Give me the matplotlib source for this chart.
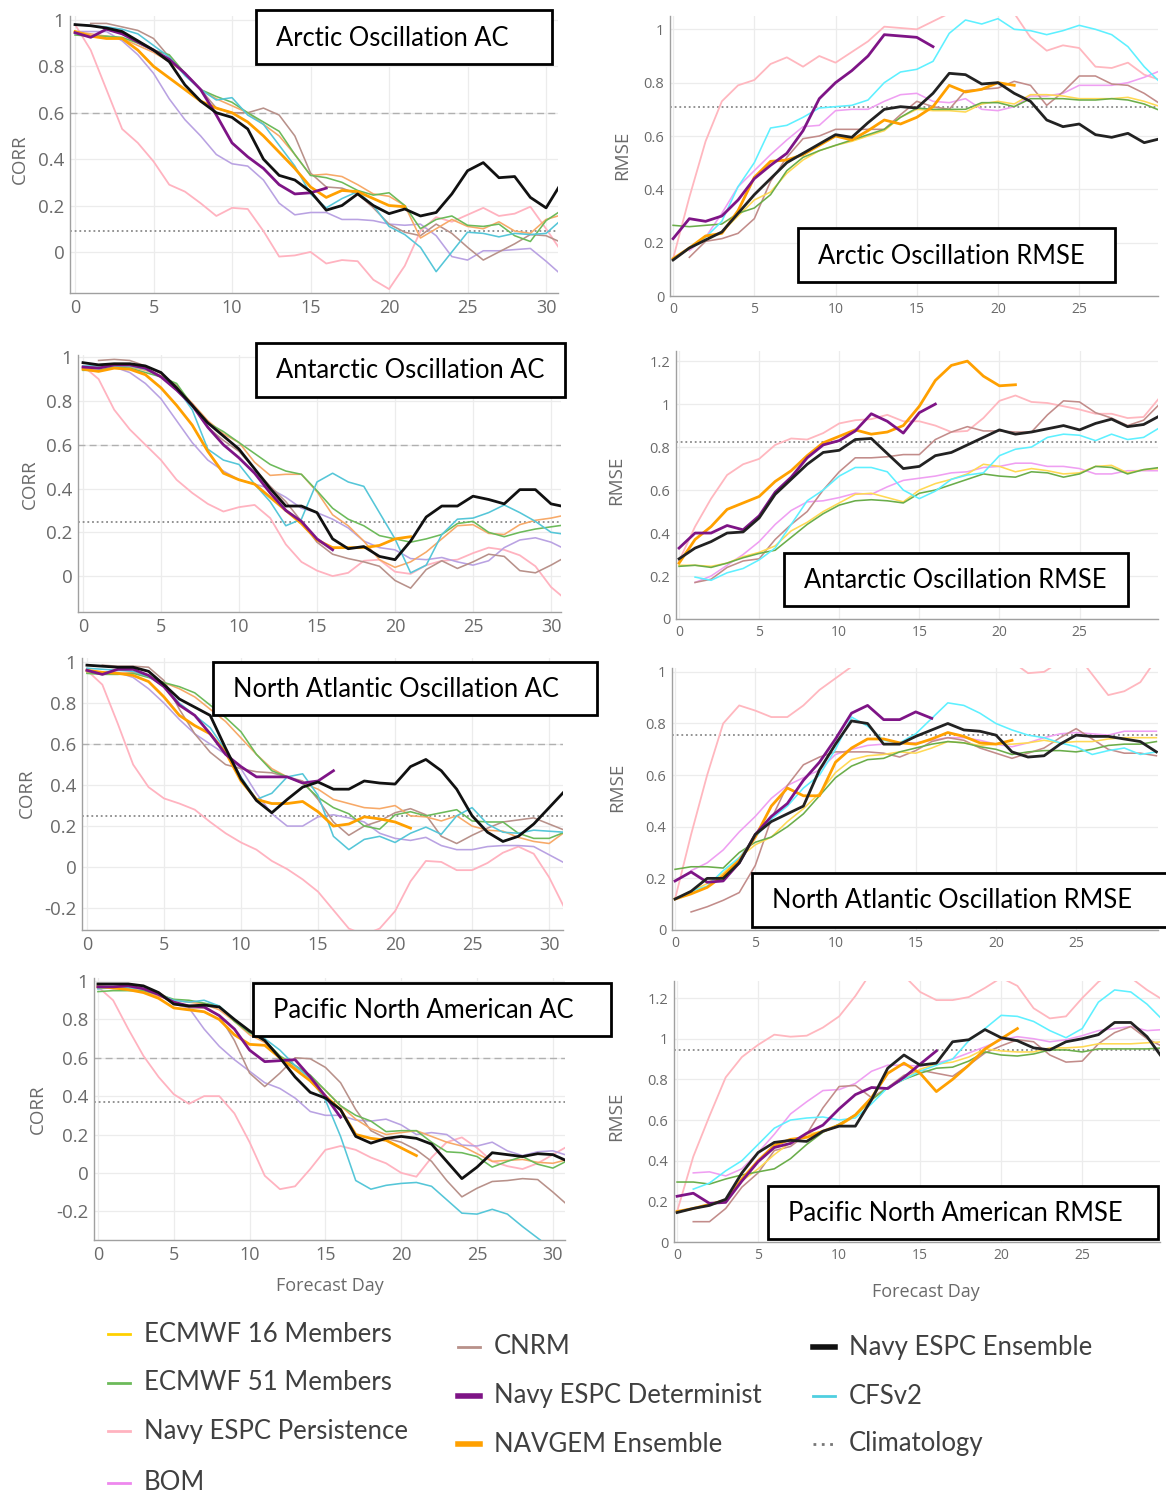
import numpy as np
import matplotlib
matplotlib.use('Agg')
import matplotlib.pyplot as plt
from matplotlib.patches import Rectangle
from matplotlib.lines import Line2D

plt.rcParams['font.family'] = ['Open Sans', 'DejaVu Sans']

# ---------------- data (AC panels: days 0..31, RMSE panels: days 0..30) ----------------
N = None
# Arctic Oscillation AC
ao_ac_pers = [0.98,0.87,0.70,0.53,0.47,0.39,0.29,0.26,0.21,0.155,0.19,0.185,0.09,-0.02,-0.015,0.0,-0.05,-0.035,-0.04,-0.12,-0.16,-0.06,0.09,0.15,0.13,0.16,0.19,0.155,0.165,0.195,0.10,0.0]
ao_ac_bom = [0.95,0.95,0.95,0.91,0.85,0.77,0.66,0.57,0.50,0.42,0.38,0.37,0.31,0.21,0.16,0.17,0.17,0.14,0.14,0.135,0.12,0.115,0.12,0.07,-0.02,-0.035,0.005,0.005,0.01,0.015,-0.04,-0.10]
ao_ac_cnrm = [N,0.985,0.985,0.97,0.955,0.92,0.84,0.77,0.70,0.62,0.60,0.60,0.62,0.59,0.50,0.34,0.28,0.275,0.25,0.19,0.12,0.085,0.07,0.12,0.08,0.02,-0.035,0.0,0.035,0.075,0.07,0.04]
ao_ac_e16 = [0.95,0.94,0.93,0.92,0.89,0.86,0.82,0.77,0.70,0.66,0.63,0.60,0.55,0.50,0.42,0.33,0.335,0.325,0.29,0.25,0.24,0.20,0.06,0.10,0.14,0.11,0.10,0.13,0.09,0.08,0.14,0.16]
ao_ac_e51 = [0.935,0.93,0.93,0.925,0.90,0.87,0.85,0.77,0.70,0.67,0.645,0.60,0.56,0.52,0.42,0.33,0.32,0.30,0.265,0.245,0.255,0.20,0.10,0.14,0.155,0.115,0.11,0.12,0.07,0.045,0.135,0.18]
ao_ac_cfs = [0.98,0.975,0.97,0.96,0.94,0.89,0.84,0.76,0.70,0.655,0.665,0.59,0.55,0.46,0.37,0.25,0.19,0.23,0.26,0.20,0.11,0.075,0.02,-0.085,0.0,0.085,0.08,0.065,0.08,0.075,0.08,0.14]
ao_ac_navgem = [0.95,0.93,0.92,0.92,0.87,0.80,0.75,0.70,0.65,0.62,0.60,0.56,0.50,0.43,0.36,0.28,0.235,0.265,0.26,0.23,0.20,0.195]
ao_ac_det = [0.945,0.925,0.96,0.94,0.905,0.87,0.83,0.77,0.70,0.59,0.47,0.41,0.36,0.29,0.25,0.255,0.275]
ao_ac_ens = [0.98,0.975,0.965,0.95,0.91,0.87,0.82,0.72,0.65,0.60,0.58,0.53,0.40,0.33,0.31,0.26,0.18,0.20,0.25,0.20,0.165,0.185,0.155,0.17,0.25,0.35,0.385,0.32,0.325,0.235,0.19,0.30]
ao_ac_clim = 0.09

# Arctic Oscillation RMSE
ao_rm_pers = [0.14,0.37,0.58,0.73,0.79,0.81,0.87,0.895,0.86,0.90,0.875,0.915,0.955,1.01,1.005,1.0,1.03,1.06,1.09,1.12,1.12,1.06,0.97,0.92,0.94,0.93,0.86,0.855,0.875,0.83,0.81]
ao_rm_bom = [N,0.17,0.22,0.31,0.41,0.47,0.53,0.585,0.635,0.64,0.695,0.70,0.70,0.73,0.755,0.76,0.73,0.725,0.74,0.70,0.695,0.71,0.75,0.75,0.76,0.79,0.79,0.79,0.80,0.82,0.845]
ao_rm_cnrm = [N,0.145,0.205,0.215,0.235,0.29,0.43,0.52,0.59,0.60,0.625,0.625,0.625,0.625,0.68,0.73,0.71,0.70,0.77,0.775,0.78,0.805,0.79,0.715,0.765,0.825,0.825,0.795,0.79,0.76,0.72]
ao_rm_e16 = [0.14,0.18,0.21,0.24,0.30,0.36,0.39,0.46,0.51,0.545,0.565,0.58,0.60,0.62,0.67,0.70,0.695,0.695,0.69,0.72,0.73,0.72,0.755,0.755,0.75,0.74,0.74,0.74,0.745,0.73,0.71]
ao_rm_e51 = [0.265,0.26,0.265,0.27,0.31,0.33,0.38,0.47,0.52,0.545,0.565,0.585,0.605,0.625,0.67,0.705,0.70,0.70,0.70,0.725,0.725,0.71,0.74,0.74,0.74,0.735,0.735,0.74,0.735,0.72,0.695]
ao_rm_cfs = [N,0.18,0.22,0.28,0.41,0.50,0.63,0.64,0.67,0.705,0.71,0.715,0.735,0.80,0.84,0.85,0.88,0.985,1.035,1.02,1.04,1.0,0.995,0.98,0.995,1.015,1.0,0.98,0.935,0.86,0.80]
ao_rm_navgem = [0.14,0.18,0.225,0.235,0.32,0.445,0.505,0.51,0.53,0.565,0.60,0.585,0.62,0.66,0.645,0.67,0.71,0.79,0.765,0.775,0.80,0.79]
ao_rm_det = [0.215,0.29,0.28,0.30,0.36,0.44,0.49,0.535,0.62,0.74,0.80,0.845,0.90,0.98,0.975,0.97,0.935]
ao_rm_ens = [0.135,0.18,0.21,0.24,0.31,0.38,0.44,0.50,0.535,0.57,0.605,0.595,0.65,0.70,0.71,0.705,0.76,0.835,0.83,0.795,0.80,0.76,0.73,0.66,0.635,0.645,0.605,0.595,0.61,0.575,0.59]
ao_rm_clim = 0.71

# Antarctic Oscillation AC
aao_ac_pers = [0.96,0.90,0.76,0.67,0.60,0.53,0.44,0.38,0.33,0.295,0.315,0.325,0.265,0.145,0.065,0.025,0.0,0.015,0.07,0.075,0.02,0.01,0.05,0.07,0.075,0.105,0.13,0.12,0.095,0.045,-0.05,-0.11]
aao_ac_bom = [0.955,0.95,0.955,0.93,0.88,0.81,0.71,0.61,0.53,0.48,0.44,0.42,0.40,0.36,0.31,0.29,0.26,0.22,0.16,0.13,0.12,0.08,0.075,0.085,0.065,0.05,0.07,0.13,0.165,0.175,0.155,0.12]
aao_ac_cnrm = [N,0.985,0.99,0.985,0.96,0.925,0.87,0.78,0.68,0.62,0.57,0.49,0.41,0.34,0.25,0.155,0.10,0.08,0.065,0.045,-0.02,-0.055,0.03,0.07,0.035,0.065,0.10,0.09,0.025,0.015,0.05,0.09]
aao_ac_e16 = [0.95,0.96,0.96,0.955,0.94,0.915,0.865,0.79,0.71,0.65,0.61,0.52,0.46,0.465,0.465,0.385,0.28,0.23,0.16,0.075,0.04,0.065,0.11,0.17,0.23,0.235,0.195,0.19,0.235,0.255,0.265,0.28]
aao_ac_e51 = [0.94,0.94,0.955,0.95,0.93,0.91,0.88,0.78,0.70,0.66,0.61,0.56,0.51,0.48,0.465,0.39,0.31,0.26,0.23,0.185,0.17,0.155,0.17,0.19,0.24,0.25,0.20,0.18,0.20,0.215,0.225,0.235]
aao_ac_cfs = [0.96,0.96,0.96,0.96,0.945,0.91,0.86,0.76,0.58,0.53,0.51,0.42,0.34,0.23,0.26,0.43,0.47,0.43,0.41,0.29,0.17,0.015,0.05,0.19,0.26,0.265,0.29,0.325,0.29,0.25,0.20,0.19]
aao_ac_navgem = [0.945,0.935,0.95,0.945,0.92,0.86,0.78,0.69,0.57,0.47,0.44,0.42,0.36,0.30,0.24,0.165,0.13,0.13,0.13,0.14,0.17,0.18]
aao_ac_det = [0.955,0.95,0.965,0.965,0.95,0.91,0.85,0.78,0.68,0.60,0.54,0.47,0.38,0.30,0.25,0.17,0.12]
aao_ac_ens = [0.975,0.965,0.97,0.97,0.96,0.93,0.86,0.78,0.70,0.64,0.58,0.49,0.40,0.32,0.32,0.29,0.17,0.125,0.135,0.09,0.075,0.16,0.27,0.32,0.32,0.365,0.35,0.33,0.395,0.395,0.33,0.315]
aao_ac_clim = 0.245

# Antarctic Oscillation RMSE
aao_rm_pers = [0.27,0.43,0.56,0.67,0.72,0.745,0.81,0.84,0.835,0.865,0.91,0.925,0.93,0.95,0.92,0.92,0.90,0.87,0.875,0.935,1.015,1.04,1.01,1.005,0.99,0.975,0.955,0.955,0.935,0.94,1.03]
aao_rm_bom = [N,0.17,0.20,0.25,0.30,0.36,0.44,0.505,0.545,0.55,0.565,0.585,0.58,0.615,0.645,0.655,0.665,0.68,0.685,0.705,0.71,0.725,0.725,0.71,0.71,0.70,0.675,0.675,0.69,0.69,0.69]
aao_rm_cnrm = [N,0.17,0.185,0.24,0.27,0.28,0.37,0.44,0.50,0.60,0.685,0.75,0.75,0.755,0.765,0.765,0.835,0.87,0.895,0.875,0.875,0.87,0.87,0.95,1.015,1.01,0.96,0.935,0.90,0.925,1.0]
aao_rm_e16 = [0.25,0.25,0.245,0.26,0.29,0.31,0.34,0.41,0.45,0.50,0.54,0.58,0.585,0.565,0.545,0.60,0.63,0.65,0.675,0.72,0.71,0.685,0.70,0.69,0.675,0.68,0.71,0.715,0.68,0.695,0.70]
aao_rm_e51 = [0.245,0.25,0.24,0.26,0.285,0.305,0.32,0.38,0.44,0.49,0.53,0.55,0.555,0.55,0.54,0.585,0.60,0.625,0.65,0.675,0.665,0.66,0.685,0.68,0.66,0.675,0.71,0.705,0.675,0.695,0.705]
aao_rm_cfs = [N,0.195,0.18,0.215,0.235,0.275,0.33,0.44,0.55,0.60,0.665,0.705,0.705,0.685,0.60,0.56,0.595,0.65,0.67,0.68,0.76,0.79,0.80,0.845,0.86,0.855,0.83,0.86,0.835,0.845,0.89]
aao_rm_navgem = [0.26,0.37,0.43,0.51,0.54,0.57,0.64,0.69,0.76,0.82,0.85,0.88,0.86,0.87,0.90,0.99,1.11,1.18,1.20,1.13,1.085,1.09]
aao_rm_det = [0.33,0.40,0.40,0.435,0.415,0.48,0.59,0.66,0.75,0.81,0.83,0.875,0.955,0.92,0.865,0.96,1.0]
aao_rm_ens = [0.28,0.33,0.36,0.40,0.405,0.47,0.58,0.65,0.72,0.775,0.785,0.835,0.84,0.77,0.70,0.71,0.76,0.775,0.81,0.845,0.88,0.86,0.87,0.885,0.90,0.88,0.91,0.93,0.895,0.905,0.945]
aao_rm_clim = 0.825

# North Atlantic Oscillation AC
nao_ac_pers = [0.96,0.89,0.70,0.50,0.39,0.335,0.31,0.28,0.22,0.165,0.12,0.085,0.03,-0.01,-0.06,-0.12,-0.21,-0.30,-0.33,-0.30,-0.215,-0.07,0.03,0.025,-0.015,-0.015,0.02,0.07,0.10,0.065,-0.05,-0.20]
nao_ac_bom = [0.955,0.95,0.95,0.925,0.87,0.80,0.72,0.65,0.60,0.55,0.48,0.36,0.26,0.20,0.20,0.245,0.255,0.24,0.22,0.165,0.14,0.13,0.145,0.105,0.085,0.085,0.10,0.105,0.105,0.10,0.06,0.02]
nao_ac_cnrm = [N,0.985,0.98,0.98,0.975,0.91,0.77,0.65,0.56,0.50,0.48,0.465,0.46,0.44,0.42,0.33,0.22,0.155,0.20,0.225,0.265,0.285,0.255,0.15,0.115,0.155,0.19,0.22,0.23,0.24,0.21,0.18]
nao_ac_e16 = [0.95,0.945,0.945,0.95,0.93,0.90,0.87,0.83,0.77,0.71,0.63,0.55,0.48,0.44,0.41,0.38,0.33,0.31,0.29,0.285,0.30,0.25,0.245,0.225,0.25,0.20,0.18,0.175,0.145,0.125,0.115,0.17]
nao_ac_e51 = [0.945,0.94,0.94,0.945,0.925,0.90,0.88,0.85,0.79,0.73,0.66,0.55,0.47,0.44,0.41,0.34,0.29,0.26,0.20,0.185,0.255,0.27,0.25,0.265,0.28,0.225,0.22,0.22,0.165,0.14,0.14,0.17]
nao_ac_cfs = [0.97,0.965,0.96,0.955,0.93,0.88,0.80,0.74,0.68,0.57,0.44,0.33,0.36,0.44,0.455,0.35,0.15,0.085,0.135,0.15,0.12,0.165,0.195,0.16,0.25,0.29,0.21,0.17,0.165,0.18,0.175,0.17]
nao_ac_navgem = [0.96,0.95,0.945,0.935,0.905,0.83,0.74,0.69,0.65,0.56,0.42,0.33,0.31,0.31,0.32,0.27,0.20,0.21,0.245,0.235,0.22,0.19]
nao_ac_det = [0.96,0.94,0.965,0.965,0.935,0.88,0.79,0.74,0.65,0.55,0.49,0.44,0.44,0.44,0.41,0.42,0.47]
nao_ac_ens = [0.985,0.98,0.975,0.975,0.955,0.89,0.82,0.78,0.74,0.58,0.43,0.325,0.265,0.33,0.39,0.415,0.38,0.38,0.42,0.41,0.405,0.49,0.525,0.47,0.38,0.25,0.17,0.125,0.15,0.21,0.29,0.37]
nao_ac_clim = 0.25

# North Atlantic Oscillation RMSE
nao_rm_pers = [0.12,0.37,0.60,0.80,0.87,0.85,0.825,0.825,0.87,0.93,0.975,1.02,1.06,1.10,1.15,1.18,1.20,1.20,1.18,1.15,1.10,1.04,0.995,1.0,1.04,1.07,0.99,0.91,0.925,0.96,1.05]
nao_rm_bom = [N,0.23,0.26,0.31,0.38,0.44,0.51,0.56,0.59,0.62,0.68,0.70,0.715,0.72,0.725,0.725,0.735,0.745,0.745,0.735,0.72,0.71,0.725,0.745,0.76,0.765,0.76,0.755,0.77,0.77,0.77]
nao_rm_cnrm = [N,0.07,0.09,0.115,0.145,0.25,0.43,0.56,0.64,0.67,0.69,0.69,0.69,0.685,0.67,0.695,0.73,0.745,0.735,0.705,0.685,0.665,0.685,0.705,0.745,0.78,0.74,0.70,0.685,0.685,0.675]
nao_rm_e16 = [0.12,0.15,0.18,0.22,0.28,0.33,0.36,0.42,0.47,0.53,0.61,0.66,0.675,0.68,0.69,0.685,0.705,0.73,0.725,0.715,0.72,0.72,0.725,0.735,0.725,0.73,0.73,0.74,0.745,0.745,0.745]
nao_rm_e51 = [0.235,0.245,0.245,0.24,0.30,0.34,0.36,0.40,0.45,0.52,0.59,0.635,0.66,0.665,0.69,0.705,0.72,0.73,0.725,0.71,0.70,0.68,0.69,0.695,0.695,0.69,0.70,0.715,0.72,0.72,0.73]
nao_rm_cfs = [0.12,0.15,0.17,0.23,0.28,0.36,0.43,0.48,0.55,0.60,0.70,0.825,0.79,0.735,0.725,0.76,0.82,0.88,0.87,0.84,0.80,0.775,0.755,0.745,0.725,0.71,0.68,0.695,0.705,0.68,0.69]
nao_rm_navgem = [0.12,0.14,0.165,0.21,0.27,0.36,0.48,0.55,0.52,0.52,0.65,0.705,0.74,0.74,0.725,0.72,0.74,0.765,0.75,0.725,0.72,0.735]
nao_rm_det = [0.19,0.225,0.185,0.19,0.26,0.37,0.44,0.49,0.58,0.65,0.74,0.84,0.87,0.815,0.815,0.845,0.82]
nao_rm_ens = [0.12,0.15,0.20,0.20,0.26,0.37,0.42,0.45,0.48,0.62,0.72,0.81,0.80,0.72,0.72,0.75,0.775,0.80,0.775,0.77,0.755,0.69,0.67,0.675,0.72,0.755,0.75,0.75,0.74,0.73,0.69]
nao_rm_clim = 0.755

# Pacific North American AC
pna_ac_pers = [0.97,0.90,0.75,0.61,0.50,0.41,0.36,0.40,0.40,0.31,0.16,-0.015,-0.085,-0.07,0.02,0.12,0.14,0.12,0.08,0.05,0.0,-0.02,0.08,0.16,0.185,0.13,0.06,0.035,0.02,0.05,0.095,0.14]
pna_ac_bom = [0.96,0.97,0.97,0.96,0.93,0.88,0.86,0.75,0.66,0.59,0.53,0.47,0.44,0.39,0.32,0.30,0.30,0.275,0.27,0.28,0.25,0.20,0.21,0.20,0.145,0.14,0.16,0.115,0.09,0.11,0.115,0.09]
pna_ac_cnrm = [N,0.985,0.985,0.97,0.94,0.895,0.86,0.86,0.82,0.69,0.52,0.45,0.52,0.60,0.595,0.55,0.47,0.33,0.22,0.18,0.16,0.12,0.06,-0.04,-0.125,-0.08,-0.045,-0.04,-0.03,-0.035,-0.10,-0.17]
pna_ac_e16 = [0.97,0.96,0.96,0.95,0.92,0.90,0.89,0.88,0.85,0.79,0.72,0.68,0.60,0.55,0.50,0.43,0.35,0.28,0.23,0.20,0.21,0.22,0.19,0.16,0.14,0.10,0.06,0.065,0.07,0.055,0.05,0.07]
pna_ac_e51 = [0.945,0.95,0.95,0.95,0.93,0.905,0.90,0.885,0.87,0.79,0.73,0.69,0.61,0.56,0.51,0.43,0.35,0.30,0.27,0.215,0.22,0.22,0.16,0.11,0.105,0.085,0.03,0.06,0.085,0.045,0.025,0.065]
pna_ac_cfs = [0.96,0.965,0.965,0.96,0.93,0.90,0.89,0.90,0.87,0.80,0.74,0.70,0.64,0.56,0.49,0.38,0.19,-0.04,-0.085,-0.065,-0.055,-0.05,-0.07,-0.14,-0.21,-0.215,-0.19,-0.215,-0.28,-0.34,-0.40,-0.45]
pna_ac_navgem = [0.97,0.965,0.955,0.94,0.91,0.86,0.85,0.84,0.80,0.72,0.67,0.665,0.60,0.54,0.48,0.40,0.33,0.20,0.18,0.17,0.13,0.09]
pna_ac_det = [0.97,0.97,0.975,0.96,0.93,0.89,0.87,0.865,0.82,0.75,0.64,0.58,0.585,0.59,0.50,0.40,0.29]
pna_ac_ens = [0.985,0.985,0.985,0.975,0.94,0.88,0.87,0.875,0.865,0.80,0.74,0.69,0.60,0.50,0.42,0.39,0.33,0.19,0.155,0.18,0.19,0.18,0.15,0.06,-0.03,0.03,0.105,0.095,0.085,0.10,0.095,0.06]
pna_ac_clim = 0.37

# Pacific North American RMSE
pna_rm_pers = [0.15,0.42,0.62,0.81,0.91,0.97,1.02,1.01,1.015,1.055,1.11,1.21,1.33,1.40,1.31,1.23,1.19,1.19,1.205,1.25,1.30,1.26,1.15,1.10,1.11,1.20,1.28,1.33,1.30,1.24,1.19]
pna_rm_bom = [N,0.34,0.345,0.325,0.36,0.44,0.53,0.63,0.69,0.745,0.75,0.78,0.84,0.87,0.87,0.865,0.88,0.90,0.93,0.96,0.995,1.01,1.0,0.985,0.995,1.015,1.04,1.05,1.06,1.04,1.045]
pna_rm_cnrm = [N,0.10,0.10,0.165,0.27,0.34,0.45,0.47,0.53,0.66,0.765,0.77,0.71,0.76,0.82,0.845,0.83,0.815,0.87,0.93,0.965,0.995,0.985,0.92,0.885,0.89,0.975,1.03,1.06,1.0,0.96]
pna_rm_e16 = [0.15,0.165,0.185,0.21,0.30,0.36,0.43,0.49,0.53,0.545,0.57,0.62,0.70,0.76,0.80,0.85,0.875,0.885,0.91,0.95,0.94,0.935,0.935,0.955,0.955,0.96,0.975,0.975,0.975,0.98,0.985]
pna_rm_e51 = [0.295,0.295,0.285,0.31,0.33,0.345,0.36,0.41,0.48,0.54,0.58,0.625,0.70,0.76,0.80,0.83,0.855,0.86,0.89,0.935,0.92,0.915,0.925,0.945,0.945,0.935,0.95,0.95,0.95,0.95,0.955]
pna_rm_cfs = [N,0.26,0.29,0.35,0.40,0.48,0.56,0.60,0.61,0.615,0.60,0.61,0.68,0.76,0.80,0.84,0.87,0.90,0.99,1.05,1.115,1.11,1.085,1.04,1.005,1.05,1.18,1.24,1.23,1.17,1.09]
pna_rm_navgem = [0.15,0.165,0.185,0.205,0.31,0.40,0.475,0.505,0.515,0.545,0.575,0.625,0.71,0.83,0.88,0.83,0.74,0.80,0.87,0.95,1.0,1.05]
pna_rm_det = [0.225,0.24,0.19,0.195,0.30,0.395,0.465,0.485,0.535,0.575,0.655,0.725,0.76,0.755,0.81,0.875,0.94]
pna_rm_ens = [0.145,0.165,0.18,0.21,0.34,0.44,0.49,0.50,0.495,0.545,0.57,0.57,0.70,0.855,0.92,0.87,0.88,0.985,0.995,1.045,1.005,0.99,0.955,0.945,0.985,1.0,1.02,1.08,1.08,1.01,0.90]
pna_rm_clim = 0.945

legend_col1 = ['ECMWF 16 Members', 'ECMWF 51 Members', 'Navy ESPC Persistence', 'BOM']
legend_col2 = ['CNRM', 'Navy ESPC Determinist', 'NAVGEM Ensemble']
legend_col3 = ['Navy ESPC Ensemble', 'CFSv2', 'Climatology']

# ---------------- styles ----------------
order = ['pers', 'bom', 'cnrm', 'e16', 'e51', 'cfs', 'navgem', 'det', 'ens']
ac_colors = dict(pers='#ffb3c0', bom='#b9a2e2', cnrm='#b8918a', e16='#f7a968', e51='#6cba5a',
                 cfs='#55c6d8', navgem='#ffa000', det='#7e1486', ens='#111111')
rm_colors = dict(pers='#ffb7bf', bom='#ef9ff2', cnrm='#c28c8a', e16='#ffd954', e51='#6aad4a',
                 cfs='#5ef0ff', navgem='#ffa000', det='#7e1486', ens='#222222')
widths = dict(pers=1.3, bom=1.15, cnrm=1.15, e16=1.15, e51=1.15, cfs=1.15, navgem=2.0, det=2.0, ens=2.0)

W, H = 1166, 1497
fig = plt.figure(figsize=(W / 100, H / 100), dpi=100)
fig.patch.set_facecolor('white')


def px_axes(l, t, r, b):
    return fig.add_axes([l / W, 1 - b / H, (r - l) / W, (b - t) / H])


def gather(prefix):
    g = globals()
    return {k: g[prefix + '_' + k] for k in order}


panels = [
    ('ac', 'ao_ac', ao_ac_clim, (70, 16, 558, 293), (-0.177, 1.017), (-0.32, 30.76), 'Arctic Oscillation AC', (256, 10, 552, 64)),
    ('rm', 'ao_rm', ao_rm_clim, (670, 16, 1158, 296), (0, 1.05), (-0.19, 29.85), 'Arctic Oscillation RMSE', (798, 228, 1115, 282)),
    ('ac', 'aao_ac', aao_ac_clim, (78, 355, 561, 612), (-0.164, 1.01), (-0.32, 30.64), 'Antarctic Oscillation AC', (256, 343, 565, 397)),
    ('rm', 'aao_rm', aao_rm_clim, (676, 351, 1158, 619), (0, 1.247), (-0.19, 29.9), 'Antarctic Oscillation RMSE', (784, 553, 1128, 606)),
    ('ac', 'nao_ac', nao_ac_clim, (82, 658, 563, 930), (-0.307, 1.02), (-0.32, 30.9), 'North Atlantic Oscillation AC', (213, 662, 597, 715)),
    ('rm', 'nao_rm', nao_rm_clim, (672, 668, 1158, 930), (0, 1.015), (-0.19, 30.1), 'North Atlantic Oscillation RMSE', (752, 873, 1172, 927)),
    ('ac', 'pna_ac', pna_ac_clim, (94, 978, 565, 1240), (-0.35, 1.016), (-0.26, 30.8), 'Pacific North American AC', (253, 983, 611, 1036)),
    ('rm', 'pna_rm', pna_rm_clim, (674, 981, 1160, 1242), (0, 1.284), (-0.19, 29.8), 'Pacific North American RMSE', (768, 1186, 1158, 1239)),
]

ylabel_pos = [(20, 159), (622, 155), (30, 484), (616, 480), (27, 793), (617, 787), (38, 1109), (616, 1116)]

for (kind, prefix, clim, box, ylim, xlim, title, tbox), (lx, ly) in zip(panels, ylabel_pos):
    ax = px_axes(*box)
    data = gather(prefix)
    colors = ac_colors if kind == 'ac' else rm_colors
    for k in order:
        y = np.array([np.nan if v is None else v for v in data[k]], dtype=float)
        ax.plot(np.arange(len(y)), y, color=colors[k], lw=widths[k], zorder=3, solid_joinstyle='round')
    ax.axhline(clim, color='#8a8a8a', lw=1.3, ls=(0, (1, 1.6)), zorder=2)
    if kind == 'ac':
        ax.axhline(0.6, color='#b0b0b0', lw=1.0, ls=(0, (5, 3)), zorder=2)
        yt = [-0.2, 0, 0.2, 0.4, 0.6, 0.8, 1]
        ax.set_xticks([0, 5, 10, 15, 20, 25, 30])
        ax.tick_params(axis='y', labelsize=13.5)
        ax.tick_params(axis='x', labelsize=13)
        ylab = 'CORR'
    else:
        yt = [0, 0.2, 0.4, 0.6, 0.8, 1, 1.2]
        ax.set_xticks([0, 5, 10, 15, 20, 25])
        ax.tick_params(axis='y', labelsize=10.5)
        ax.tick_params(axis='x', labelsize=10)
        ylab = 'RMSE'
    yt = [v for v in yt if ylim[0] <= v <= ylim[1]]
    ax.set_yticks(yt)
    ax.set_yticklabels([f'{v:g}' for v in yt])
    ax.set_ylim(*ylim)
    ax.set_xlim(*xlim)
    ax.grid(True, color='#ececec', lw=0.9, zorder=0)
    ax.set_axisbelow(True)
    for s in ['top', 'right']:
        ax.spines[s].set_visible(False)
    for s in ['left', 'bottom']:
        ax.spines[s].set_color('#a0a0a0')
        ax.spines[s].set_linewidth(1.0)
    ax.tick_params(length=0, colors='#6a6a6a', pad=4)
    fig.text(lx / W, 1 - ly / H, ylab, rotation=90, ha='center', va='center',
             fontsize=13.5, color='#6a6a6a')

    # title box
    l, t, r, b = tbox
    fig.patches.append(Rectangle((l / W, 1 - b / H), (r - l) / W, (b - t) / H,
                                 transform=fig.transFigure, facecolor='white',
                                 edgecolor='black', lw=2, zorder=5))
    fig.text((l + 20) / W, 1 - ((t + b) / 2 + 1) / H, title, ha='left', va='center',
             fontsize=18.4, family=['Lato', 'DejaVu Sans'], color='black', zorder=6)

fig.text(330 / W, 1 - 1286 / H, 'Forecast Day', ha='center', va='center', fontsize=13, color='#6a6a6a')
fig.text(926 / W, 1 - 1292 / H, 'Forecast Day', ha='center', va='center', fontsize=13, color='#6a6a6a')

# ---------------- legend ----------------
leg_colors = {'ECMWF 16 Members': '#ffd000', 'ECMWF 51 Members': '#6cba5a',
              'Navy ESPC Persistence': '#ffb3c0', 'BOM': '#ee88ee', 'CNRM': '#b8918a',
              'Navy ESPC Determinist': '#7e1486', 'NAVGEM Ensemble': '#ffa000',
              'Navy ESPC Ensemble': '#111111', 'CFSv2': '#4fcfe0', 'Climatology': '#777777'}
thick = {'Navy ESPC Determinist', 'NAVGEM Ensemble', 'Navy ESPC Ensemble'}
cols = [(legend_col1, 108, [1334, 1383, 1431, 1483]),
        (legend_col2, 458, [1347, 1396, 1444]),
        (legend_col3, 813, [1347, 1396, 1444])]
for labels, x0, ys in cols:
    for lab, yy in zip(labels, ys):
        yf = 1 - yy / H
        lw = 4.0 if lab in thick else 2.0
        ls = (0, (1, 2)) if lab == 'Climatology' else '-'
        fig.lines.append(Line2D([x0 / W, (x0 + 22) / W], [yf, yf], transform=fig.transFigure,
                                color=leg_colors[lab], lw=lw, ls=ls))
        fig.text((x0 + 36) / W, yf, lab, ha='left', va='center', fontsize=18.5,
                 family=['Lato', 'DejaVu Sans'], color='#404040')

fig.savefig('out.png', dpi=100)
